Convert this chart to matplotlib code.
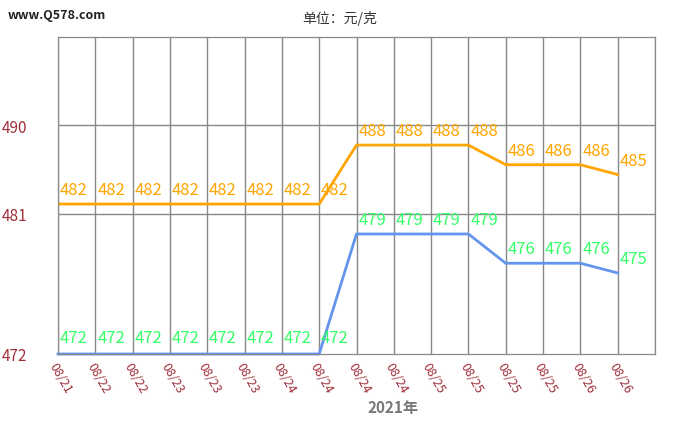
import matplotlib
matplotlib.use("Agg")
import matplotlib.pyplot as plt
import numpy as np

plt.rcParams['font.family'] = ['Noto Sans CJK SC', 'DejaVu Sans']

dates = ["08/21","08/22","08/22","08/23","08/23","08/23","08/24","08/24",
         "08/24","08/24","08/25","08/25","08/25","08/25","08/26","08/26"]
gold = [482,482,482,482,482,482,482,482,488,488,488,488,486,486,486,485]
other = [472,472,472,472,472,472,472,472,479,479,479,479,476,476,476,475]

fig = plt.figure(figsize=(6.8,4.31), dpi=100)
ax = fig.add_axes([58/680, 1-355/431, (655-58)/680, (355-38)/431])
ax2 = ax.twinx()

xp = [400, 472, 475, 500]
fp = [-1944, 0, 81, 324.75]
ax2.set_yscale('function', functions=(lambda v: np.interp(v, xp, fp), lambda p: np.interp(p, fp, xp)))

x = list(range(len(dates)))
ax.plot(x, gold, color='#ffa500', lw=2)
ax2.plot(x, other, color='#6495ed', lw=2, clip_on=False)
ax.set_ylim(466.74, 499)
ax2.set_ylim(472, 499.2)
ax.set_xlim(0, 16)
for i, v in enumerate(gold):
    ax.text(i+0.05, v+0.6, str(v), color='#ffa500', fontsize=12, ha='left', va='bottom')
for i, v in enumerate(other):
    ax2.text(i+0.05, v+0.6 if v > 472 else 472.3, str(v), color='#33ff66', fontsize=12, ha='left', va='bottom')
ax.set_xticks(range(17))
ax.set_xticklabels(dates + [""], rotation=-60, ha='left', va='top', color='#a0303a', fontsize=9, rotation_mode='anchor')
ax.tick_params(axis='x', length=0, pad=4)
ax.grid(True, axis='x', color='#888888', lw=1)
ax.set_yticks([481, 490])
ax.set_yticklabels(['481', '490'], color='#a0303a', fontsize=11)
ax.grid(True, axis='y', color='#888888', lw=1)
ax2.set_yticks([472])
ax2.set_yticklabels(['472'], color='#a0303a', fontsize=11)
ax2.yaxis.tick_left()
ax.tick_params(axis='y', length=0, pad=22)
ax2.tick_params(axis='y', length=0, pad=22)
for a in (ax, ax2):
    for s in a.spines.values():
        s.set_color('#888888')
ax.set_xlabel("2021年", color='#777777', fontsize=11, fontweight='bold', labelpad=0)
ax.xaxis.set_label_coords(335/597, -45/317)
fig.text(340/680, 1-18/431, "单位：元/克", ha='center', va='center', fontsize=10, color='#333333')
fig.text(8/680, 1-16/431, "www.Q578.com", ha='left', va='center', fontsize=9, color='#222222', fontweight='bold')
fig.savefig("out.png", dpi=100)
